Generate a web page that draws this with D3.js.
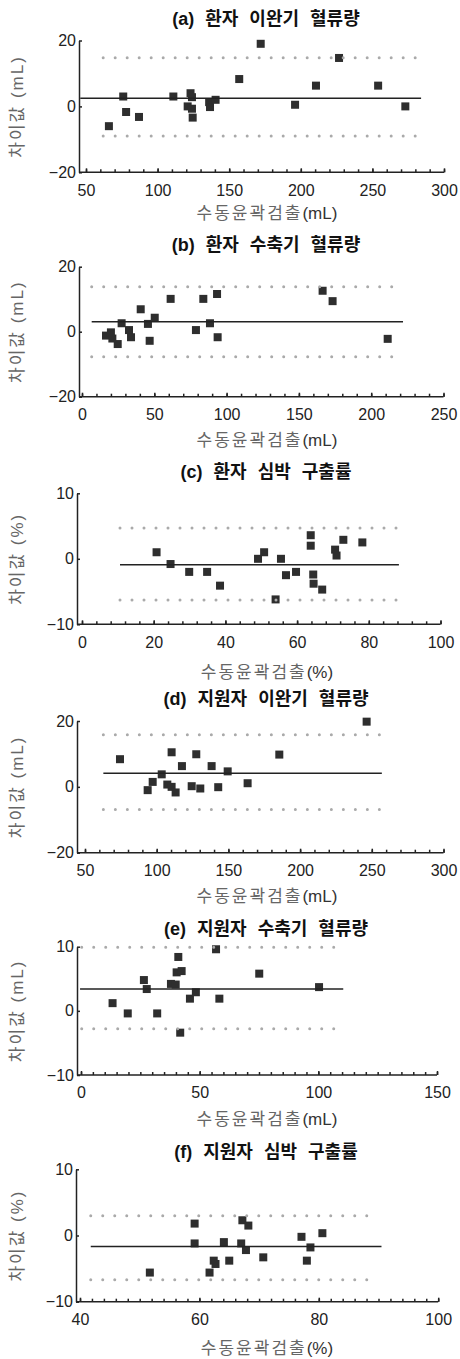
<!DOCTYPE html>
<meta charset="utf-8">
<script src="https://cdn.jsdelivr.net/npm/d3@7"></script>
<style>
    body { margin: 0; background: #fff; }
    text { font-family: "Liberation Sans", Arial, "Noto Sans CJK KR", sans-serif; }
    .title { font-size: 18px; font-weight: bold; fill: #111; word-spacing: 6px; }
    .tick text { font-size: 16px; fill: #222; font-family: "Liberation Sans", Arial, sans-serif; }
    .alabel { font-size: 17px; fill: #666; letter-spacing: 2px; }
    .alabel tspan { fill: #333; letter-spacing: 0; }
    .mean { stroke: #222; stroke-width: 1.5px; fill: none; }
    .limit { stroke: #aaa; stroke-width: 3px; stroke-linecap: round; stroke-dasharray: 0, 12; fill: none; }
    .axis path, .axis line, .axisline { stroke: #222; stroke-width: 1.5px; fill: none; }
    .pt { fill: #2e2e2e; }
</style>
<body>
<script>

// (a) 환자 이완기 혈류량
var aPoints = [[66, -6], [76, 3], [78, -1.7], [87, -3.2], [111, 3], [121, 0], [123, 4], [124, 2.8],
    [124, -0.7], [124.5, -3.4], [136, 1.3], [136.6, -0.2], [140.5, 2], [157, 8.3], [172, 19],
    [196, 0.5], [210.6, 6.3], [226.7, 14.7], [254, 6.3], [273, 0]];
var aMean = 2.5, aLimits = [14.8, -9], aMeanSpan = [46, 284], aLimitSpan = [62, 284];

// (b) 환자 수축기 혈류량
var bPoints = [[16.6, -1.2], [20, -0.2], [21, -2.1], [24.7, -3.8], [27.4, 2.6], [32.5, 0.5], [33.9, -1.7],
    [40.6, 6.9], [45.6, 2.4], [46.8, -2.8], [50.3, 4.3], [61.3, 10.1], [78.8, 0.5], [83.9, 10.1],
    [88.5, 2.6], [93.4, 11.6], [93.8, -1.7], [166.4, 12.6], [173.3, 9.4], [211.4, -2.2]];
var bMean = 3.1, bLimits = [13.8, -7.7], bMeanSpan = [6.7, 222], bLimitSpan = [6.7, 216];

// (c) 환자 심박 구출률
var cPoints = [[20.8, 1], [24.7, -0.8], [29.9, -2], [34.9, -2], [38.5, -4.1], [49.1, 0], [50.8, 1],
    [54, -6.2], [55.5, 0], [56.9, -2.5], [59.7, -2], [63.8, 3.6], [63.8, 2], [64.5, -2.4], [64.6, -3.8],
    [67, -4.7], [70.6, 1.4], [71, 0.5], [72.9, 2.9], [78.2, 2.5]];
var cMean = -0.9, cLimits = [4.7, -6.3], cMeanSpan = [10.6, 88.4], cLimitSpan = [10.6, 88];

// (d) 지원자 이완기 혈류량
var dPoints = [[74.4, 8.4], [93.7, -1], [97.2, 1.5], [103.5, 3.8], [107.4, 0.7], [110.4, 10.5], [110.4, 0],
    [113.2, -1.7], [117.6, 6.3], [124.4, 0.2], [127.6, 9.9], [130.4, -0.5], [138.3, 6.3], [142.9, -0.1],
    [149.5, 4.7], [163.4, 1.1], [185.5, 9.8], [246.4, 19.8]];
var dMean = 4.15, dLimits = [15.8, -6.9], dMeanSpan = [62.8, 257], dLimitSpan = [62.8, 257];

// (e) 지원자 수축기 혈류량
var ePoints = [[13.3, 1.2], [19.7, -0.4], [26.5, 4.8], [27.7, 3.4], [32.1, -0.4], [37.9, 4.2], [39.9, 4.1],
    [40.3, 6], [41, 8.4], [42.4, 6.2], [41.8, -3.4], [45.9, 1.9], [48.4, 2.9], [56.9, 9.6], [58.3, 1.9],
    [75.1, 5.8], [100.3, 3.7]];
var eMean = 3.4, eLimits = [9.9, -2.8], eMeanSpan = [-0.4, 110.5], eLimitSpan = [0.3, 110];

// (f) 지원자 심박 구출률
var fPoints = [[51.7, -5.6], [59.2, 1.8], [59.2, -1.2], [61.7, -5.6], [62.4, -3.8], [62.7, -4.3], [64.1, -1],
    [65, -3.8], [67, -1.2], [67.2, 2.3], [67.8, -2.2], [68.2, 1.5], [70.7, -3.3], [77.1, -0.2], [78, -3.8],
    [78.6, -1.8], [80.6, 0.35]];
var fMean = -1.66, fLimits = [3, -6.7], fMeanSpan = [41.8, 90.5], fLimitSpan = [41.8, 90];

var titles = ["(a) 환자 이완기 혈류량", "(b) 환자 수축기 혈류량", "(c) 환자 심박 구출률",
    "(d) 지원자 이완기 혈류량", "(e) 지원자 수축기 혈류량", "(f) 지원자 심박 구출률"];
var units = ["mL", "mL", "%", "mL", "mL", "%"];
var xTicks = [[50, 100, 150, 200, 250, 300], [0, 50, 100, 150, 200, 250], [0, 20, 40, 60, 80, 100],
    [50, 100, 150, 200, 250, 300], [0, 50, 100, 150], [40, 60, 80, 100]];
var xMinorStep = [10, 10, 4, 10, 5, 2];
var yTicks = [[-20, 0, 20], [-20, 0, 20], [-10, 0, 10], [-20, 0, 20], [-10, 0, 10], [-10, 0, 10]];

// layout of each panel (pixels)
var panels = [
    { pts: aPoints, mean: aMean, lim: aLimits, ms: aMeanSpan, ls: aLimitSpan, ax: 79, xr: [86, 444], yr: [172.3, 40.5], ty: 19, ly: 213 },
    { pts: bPoints, mean: bMean, lim: bLimits, ms: bMeanSpan, ls: bLimitSpan, ax: 79, xr: [82, 443.5], yr: [396.7, 266.7], ty: 245, ly: 440 },
    { pts: cPoints, mean: cMean, lim: cLimits, ms: cMeanSpan, ls: cLimitSpan, ax: 77, xr: [82, 440.5], yr: [624.3, 493.3], ty: 471.7, ly: 672 },
    { pts: dPoints, mean: dMean, lim: dLimits, ms: dMeanSpan, ls: dLimitSpan, ax: 77, xr: [85, 443.5], yr: [852.7, 721], ty: 698.3, ly: 896 },
    { pts: ePoints, mean: eMean, lim: eLimits, ms: eMeanSpan, ls: eLimitSpan, ax: 77, xr: [81, 437], yr: [1075, 946.7], ty: 928.3, ly: 1119 },
    { pts: fPoints, mean: fMean, lim: fLimits, ms: fMeanSpan, ls: fLimitSpan, ax: 76, xr: [80, 438.2], yr: [1301.7, 1169.3], ty: 1151.7, ly: 1348 }
];

var width = 460, height = 1359, sq = 8;

var svg = d3.select("body").append("svg")
    .attr("width", width)
    .attr("height", height);

panels.forEach(function (p, i) {
    var xt = xTicks[i], yt = yTicks[i];
    var x = d3.scaleLinear().domain([xt[0], xt[xt.length - 1]]).range(p.xr);
    var y = d3.scaleLinear().domain([yt[0], yt[yt.length - 1]]).range(p.yr);
    var g = svg.append("g");

    // title
    g.append("text")
        .attr("class", "title")
        .attr("x", 266)
        .attr("y", p.ty)
        .attr("dy", "0.35em")
        .attr("text-anchor", "middle")
        .text(titles[i]);

    // x axis: minor ticks, then labelled major ticks
    var minors = d3.range(xt[0], xt[xt.length - 1] + 0.001, xMinorStep[i]);
    g.append("g")
        .attr("class", "axis")
        .attr("transform", "translate(0," + p.yr[0] + ")")
        .call(d3.axisBottom(x).tickValues(minors).tickFormat("").tickSizeInner(-3).tickSizeOuter(0))
        .select(".domain").remove();
    g.append("g")
        .attr("class", "axis")
        .attr("transform", "translate(0," + p.yr[0] + ")")
        .call(d3.axisBottom(x).tickValues(xt).tickSizeInner(-4).tickSizeOuter(0).tickPadding(12))
        .select(".domain").remove();
    g.append("line")
        .attr("class", "axisline")
        .attr("x1", p.ax).attr("x2", p.xr[1])
        .attr("y1", p.yr[0]).attr("y2", p.yr[0]);

    // y axis
    g.append("g")
        .attr("class", "axis")
        .attr("transform", "translate(" + p.ax + ",0)")
        .call(d3.axisLeft(y).tickValues(yt).tickSizeInner(-3).tickSizeOuter(0).tickPadding(3));

    // axis titles
    var xl = g.append("text")
        .attr("class", "alabel")
        .attr("x", 267)
        .attr("y", p.ly)
        .attr("dy", "0.35em")
        .attr("text-anchor", "middle")
        .text("수동윤곽검출");
    xl.append("tspan").text("(" + units[i] + ")");

    var ymid = (p.yr[0] + p.yr[1]) / 2;
    g.append("text")
        .attr("class", "alabel")
        .attr("transform", "translate(17," + ymid + ") rotate(-90)")
        .attr("dy", "0.35em")
        .attr("text-anchor", "middle")
        .text("차이값 (" + units[i] + ")");

    // points
    g.selectAll("rect.pt")
        .data(p.pts)
        .enter()
        .append("rect")
        .attr("class", "pt")
        .attr("x", function (d) { return x(d[0]) - sq / 2; })
        .attr("y", function (d) { return y(d[1]) - sq / 2; })
        .attr("width", sq)
        .attr("height", sq);

    // mean line
    g.append("line")
        .attr("class", "mean")
        .attr("x1", x(p.ms[0])).attr("x2", x(p.ms[1]))
        .attr("y1", y(p.mean)).attr("y2", y(p.mean));

    // limits of agreement
    g.selectAll("line.limit")
        .data(p.lim)
        .enter()
        .append("line")
        .attr("class", "limit")
        .attr("x1", x(p.ls[0])).attr("x2", x(p.ls[1]))
        .attr("y1", function (d) { return y(d); })
        .attr("y2", function (d) { return y(d); });
});

</script>
</body>
